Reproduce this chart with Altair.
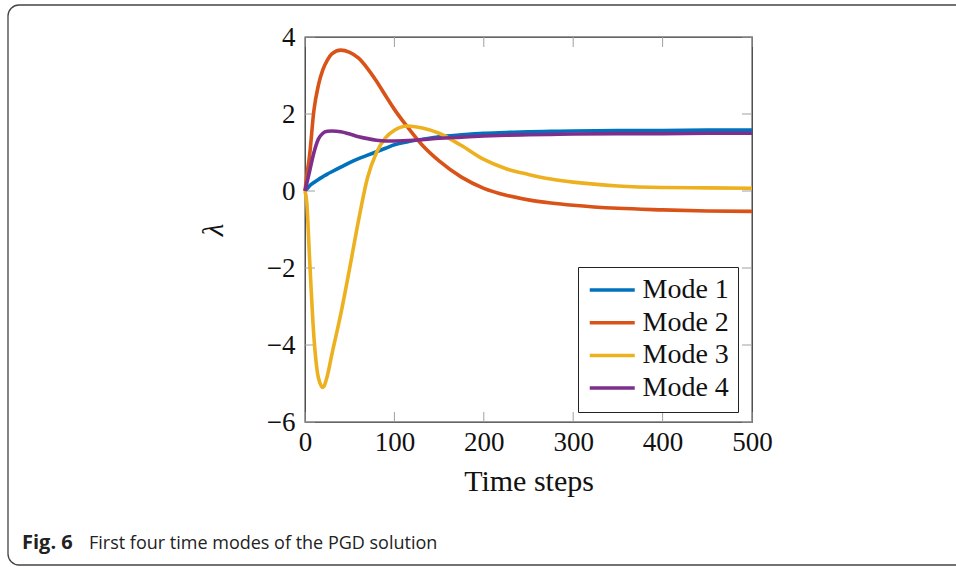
import altair as alt
import pandas as pd

# Time steps shared by all four modes
t = [0, 2, 5, 10, 15, 20, 25, 30, 40, 50, 60, 70, 80, 90, 100, 115, 130,
     150, 175, 200, 225, 250, 275, 300, 350, 400, 450, 500]

mode1 = [0.0, 0.05, 0.13, 0.22, 0.30, 0.37, 0.44, 0.50, 0.62, 0.74, 0.84, 0.93,
         1.02, 1.11, 1.20, 1.28, 1.34, 1.41, 1.46, 1.50, 1.52, 1.54, 1.55, 1.56,
         1.57, 1.57, 1.58, 1.58]
mode2 = [0.0, 0.40, 0.90, 2.10, 2.75, 3.15, 3.40, 3.56, 3.66, 3.60, 3.45, 3.18,
         2.85, 2.48, 2.12, 1.65, 1.22, 0.78, 0.36, 0.07, -0.11, -0.23, -0.31,
         -0.37, -0.45, -0.49, -0.52, -0.53]
mode3 = [0.0, -0.30, -1.70, -3.80, -4.85, -5.10, -4.80, -4.25, -3.20, -2.00,
         -0.75, 0.35, 1.00, 1.38, 1.58, 1.69, 1.64, 1.50, 1.18, 0.82, 0.58, 0.43,
         0.31, 0.23, 0.13, 0.09, 0.08, 0.07]
mode4 = [0.0, 0.20, 0.50, 1.00, 1.35, 1.50, 1.55, 1.56, 1.54, 1.48, 1.41, 1.36,
         1.32, 1.30, 1.30, 1.31, 1.33, 1.37, 1.40, 1.43, 1.45, 1.46, 1.47, 1.48,
         1.49, 1.49, 1.50, 1.50]

mode_names = ["Mode 1", "Mode 2", "Mode 3", "Mode 4"]
mode_colors = ["#0072BD", "#D95319", "#EDB120", "#7E2F8E"]

x_ticks = [0, 100, 200, 300, 400, 500]
y_ticks = [-6, -4, -2, 0, 2, 4]

W, H = 447, 385
SERIF = "Liberation Serif"
TICK_LEN = 10
TICK_COLOR = "#a0a0a0"

rows = []
for name, vals in zip(mode_names, [mode1, mode2, mode3, mode4]):
    for ti, v in zip(t, vals):
        rows.append({"t": ti, "value": v, "mode": name})
df = pd.DataFrame(rows)
xt = pd.DataFrame({"t": x_ticks})
yt = pd.DataFrame({"value": y_ticks})

x_scale = alt.Scale(domain=[0, 500], nice=False, zero=False)
y_scale = alt.Scale(domain=[-6, 4], nice=False, zero=False)
x_axis = alt.Axis(values=x_ticks, title="Time steps", format="d",
                  labelPadding=7, titlePadding=11, titleFontSize=30,
                  labelFlush=False)
y_axis = alt.Axis(values=y_ticks, title="λ", format="d",
                  labelPadding=10, titlePadding=38, titleFontSize=29,
                  labelFlush=False, titleFontStyle="italic")

# Legend sample line: a long horizontal stroke starting at the entry's left edge
LEGEND_LINE = "M-1,0H3"

lines = alt.Chart(df).mark_line(strokeWidth=3.6, interpolate="monotone").encode(
    x=alt.X("t:Q", scale=x_scale, axis=x_axis),
    y=alt.Y("value:Q", scale=y_scale, axis=y_axis),
    color=alt.Color(
        "mode:N",
        scale=alt.Scale(domain=mode_names, range=mode_colors),
        legend=alt.Legend(
            title=None, orient="none", legendX=273, legendY=230,
            strokeColor="#222", fillColor="white", padding=9,
            symbolType=LEGEND_LINE, symbolSize=506, symbolStrokeWidth=3.5,
            symbolFillColor="transparent",
            labelFont=SERIF, labelFontSize=28, labelColor="#111",
            labelOffset=27.5, rowPadding=4.7, labelLimit=300,
        ),
    ),
)

# Inward ticks on all four sides of the frame
bottom_ticks = alt.Chart(xt).mark_rule(color=TICK_COLOR, strokeWidth=1).encode(
    x=alt.X("t:Q", scale=x_scale, axis=x_axis),
    y=alt.value(H), y2=alt.value(H - TICK_LEN))
top_ticks = alt.Chart(xt).mark_rule(color=TICK_COLOR, strokeWidth=1).encode(
    x=alt.X("t:Q", scale=x_scale, axis=x_axis),
    y=alt.value(0), y2=alt.value(TICK_LEN))
left_ticks = alt.Chart(yt).mark_rule(color=TICK_COLOR, strokeWidth=1).encode(
    y=alt.Y("value:Q", scale=y_scale, axis=y_axis),
    x=alt.value(0), x2=alt.value(TICK_LEN))
right_ticks = alt.Chart(yt).mark_rule(color=TICK_COLOR, strokeWidth=1).encode(
    y=alt.Y("value:Q", scale=y_scale, axis=y_axis),
    x=alt.value(W - TICK_LEN), x2=alt.value(W))

# Figure border and caption
border = alt.Chart(pd.DataFrame({"a": [0]})).mark_rect(
    fill=None, stroke="#444", strokeWidth=1.3, cornerRadius=11, clip=False
).encode(x=alt.value(-297), x2=alt.value(680), y=alt.value(-32), y2=alt.value(528))

cap_bold = alt.Chart(pd.DataFrame({"s": ["Fig. 6"]})).mark_text(
    font="Open Sans", fontSize=20, fontWeight="bold", align="left",
    baseline="alphabetic", color="#222"
).encode(text="s:N", x=alt.value(-283), y=alt.value(512))
cap_text = alt.Chart(pd.DataFrame({"s": ["First four time modes of the PGD solution"]})).mark_text(
    font="Open Sans", fontSize=18, align="left", baseline="alphabetic", color="#222"
).encode(text="s:N", x=alt.value(-216), y=alt.value(512))

chart = alt.layer(
    border, bottom_ticks, top_ticks, left_ticks, right_ticks, lines,
    cap_bold, cap_text
).properties(
    width=W, height=H,
    autosize=alt.AutoSizeParams(type="none"),
    padding={"left": 305, "top": 37, "right": 204, "bottom": 145},
    background="white",
).configure_view(
    stroke="#333", strokeWidth=1.3
).configure_axis(
    ticks=False, domain=False, grid=False,
    labelFont=SERIF, labelFontSize=27, labelColor="#111",
    titleFont=SERIF, titleFontSize=27, titleColor="#111", titleFontWeight="normal",
)

chart.save("out.html", embed_options={"renderer": "svg", "actions": False})
